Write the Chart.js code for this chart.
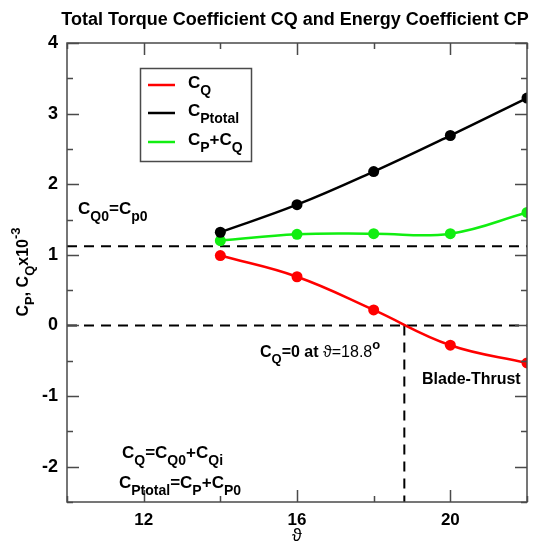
<!DOCTYPE html>
<html>
<head>
<meta charset="utf-8">
<script src="https://cdn.jsdelivr.net/npm/chart.js@4/dist/chart.umd.min.js"></script>
<style>
  html, body { margin: 0; padding: 0; background: #fff; }
  #wrap { width: 537px; height: 543px; }
</style>
</head>
<body>
<div id="wrap"><canvas id="chart" width="537" height="543"></canvas></div>
<script>
// blade angle (deg) and coefficients x10^-3
const angles = [14, 16, 18, 20, 22];
const cq = [0.99, 0.69, 0.22, -0.28, -0.53];
const cpTotal = [1.32, 1.71, 2.18, 2.69, 3.22];
const cpPlusCq = [1.20, 1.29, 1.30, 1.30, 1.60];
const cq0Level = 1.12;      // C_Q0 = C_p0 reference line
const cqZeroAngle = 18.8;   // where C_Q crosses zero
const xTicks = [12, 16, 20];
const yTicks = [-2, -1, 0, 1, 2, 3, 4];
const xRange = [10, 22];
const yRange = [-2.5, 4];

const FONT = '"Liberation Sans", Arial, sans-serif';
const pts = ys => angles.map((a, i) => ({ x: a, y: ys[i] }));

// draw text made of [str, kind] parts, kind = 'n' | 'sub' | 'sup' | 'r' (regular weight)
function fontFor(k, size) {
  if (k === 'sub' || k === 'sup') return `bold ${Math.round(size * 0.8)}px ${FONT}`;
  if (k === 'r') return `${size}px ${FONT}`;
  return `bold ${size}px ${FONT}`;
}
function richWidth(ctx, parts, size) {
  let w = 0;
  for (const [s, k] of parts) {
    ctx.font = fontFor(k, size);
    w += ctx.measureText(s).width;
  }
  return w;
}
function drawRich(ctx, parts, x, y, size) {
  let cx = x;
  for (const [s, k] of parts) {
    ctx.font = fontFor(k, size);
    let dy = 0;
    if (k === 'sub') dy = size * 0.4;
    if (k === 'sup') dy = -size * 0.5;
    ctx.fillText(s, cx, y + dy);
    cx += ctx.measureText(s).width;
  }
}

const framePlugin = {
  id: 'frame',
  afterDraw(chart) {
    const { ctx, chartArea: a, scales: { x, y } } = chart;
    ctx.save();
    // box
    ctx.strokeStyle = '#4a4a4a';
    ctx.lineWidth = 1.5;
    ctx.strokeRect(a.left, a.top, a.right - a.left, a.bottom - a.top);
    // inward ticks on all four sides
    ctx.beginPath();
    for (let v = yRange[0]; v <= yRange[1] + 1e-9; v += 0.5) {
      const py = Math.round(y.getPixelForValue(v)) + 0.5;
      const len = Number.isInteger(v) ? 12 : 6;
      ctx.moveTo(a.left, py); ctx.lineTo(a.left + len, py);
      ctx.moveTo(a.right, py); ctx.lineTo(a.right - len, py);
    }
    for (let v = xRange[0]; v <= xRange[1] + 1e-9; v += 2) {
      const px = Math.round(x.getPixelForValue(v)) + 0.5;
      const len = (v % 4 === 0) ? 12 : 6;
      ctx.moveTo(px, a.bottom); ctx.lineTo(px, a.bottom - len);
      ctx.moveTo(px, a.top); ctx.lineTo(px, a.top + len);
    }
    ctx.stroke();

    ctx.fillStyle = '#000';
    ctx.textBaseline = 'alphabetic';
    ctx.textAlign = 'left';

    // title
    ctx.font = `bold 18px ${FONT}`;
    ctx.textAlign = 'center';
    ctx.fillText('Total Torque Coefficient CQ and Energy Coefficient CP', 295, 25);
    ctx.textAlign = 'left';

    // y axis title, rotated
    const yParts = [['C', 'n'], ['P', 'sub'], [', C', 'n'], ['Q', 'sub'], ['x10', 'n'], ['-3', 'sup']];
    const yw = richWidth(ctx, yParts, 16);
    ctx.save();
    ctx.translate(28, 272);
    ctx.rotate(-Math.PI / 2);
    drawRich(ctx, yParts, -yw / 2, 0, 16);
    ctx.restore();

    // x axis title
    ctx.font = `18px ${FONT}`;
    ctx.textAlign = 'center';
    ctx.fillText('\u03D1', x.getPixelForValue(16), 541);
    ctx.textAlign = 'left';

    // legend box
    ctx.strokeStyle = '#4a4a4a';
    ctx.lineWidth = 1.5;
    ctx.strokeRect(140.5, 68.5, 111, 93);
    const leg = [
      ['#ff0000', [['C', 'n'], ['Q', 'sub']], 88],
      ['#000000', [['C', 'n'], ['Ptotal', 'sub']], 116],
      ['#11ee11', [['C', 'n'], ['P', 'sub'], ['+C', 'n'], ['Q', 'sub']], 145]
    ];
    for (const [col, parts, by] of leg) {
      ctx.strokeStyle = col;
      ctx.lineWidth = 2.5;
      ctx.beginPath();
      ctx.moveTo(148, by - 3); ctx.lineTo(175, by - 3);
      ctx.stroke();
      drawRich(ctx, parts, 188, by, 17);
    }

    // annotations
    drawRich(ctx, [['C', 'n'], ['Q0', 'sub'], ['=C', 'n'], ['p0', 'sub']], 78, 214, 17);
    drawRich(ctx, [['C', 'n'], ['Q', 'sub'], ['=0 at ', 'n'], ['\u03D1=18.8', 'r'], ['o', 'sup']], 260, 357, 16);
    drawRich(ctx, [['Blade-Thrust', 'n']], 422, 384, 16);
    drawRich(ctx, [['C', 'n'], ['Q', 'sub'], ['=C', 'n'], ['Q0', 'sub'], ['+C', 'n'], ['Qi', 'sub']], 122, 458, 17);
    drawRich(ctx, [['C', 'n'], ['Ptotal', 'sub'], ['=C', 'n'], ['P', 'sub'], ['+C', 'n'], ['P0', 'sub']], 119, 488, 17);
    ctx.restore();
  }
};

const dashed = { borderColor: '#000', borderWidth: 2, borderDash: [10, 7], pointRadius: 0, tension: 0, order: 5 };

new Chart(document.getElementById('chart'), {
  type: 'line',
  data: {
    datasets: [
      { label: 'CQ', data: pts(cq), borderColor: '#ff0000', backgroundColor: '#ff0000', order: 1 },
      { label: 'CPtotal', data: pts(cpTotal), borderColor: '#000000', backgroundColor: '#000000', order: 2 },
      { label: 'CP+CQ', data: pts(cpPlusCq), borderColor: '#11ee11', backgroundColor: '#11ee11', order: 3 },
      { ...dashed, data: [{ x: xRange[0], y: cq0Level }, { x: xRange[1], y: cq0Level }] },
      { ...dashed, data: [{ x: xRange[0], y: 0 }, { x: xRange[1], y: 0 }] },
      { ...dashed, data: [{ x: cqZeroAngle, y: 0 }, { x: cqZeroAngle, y: yRange[0] }] }
    ]
  },
  options: {
    responsive: false,
    animation: false,
    devicePixelRatio: 1,
    layout: { padding: { top: 43, right: 10, left: 0, bottom: 0 } },
    elements: {
      line: { borderWidth: 2.5, tension: 0.4, fill: false },
      point: { radius: 5.5, borderWidth: 0 }
    },
    plugins: { legend: { display: false }, tooltip: { enabled: false }, title: { display: false } },
    scales: {
      x: {
        type: 'linear', min: xRange[0], max: xRange[1],
        afterBuildTicks: s => { s.ticks = xTicks.map(v => ({ value: v })); },
        afterFit: s => { s.height = 41; },
        grid: { display: false, drawTicks: false },
        border: { display: false },
        ticks: { color: '#000', padding: 8, maxRotation: 0, font: { family: FONT, size: 17, weight: 'bold' } }
      },
      y: {
        type: 'linear', min: yRange[0], max: yRange[1],
        afterBuildTicks: s => { s.ticks = yTicks.map(v => ({ value: v })); },
        afterFit: s => { s.width = 67; },
        grid: { display: false, drawTicks: false },
        border: { display: false },
        ticks: { color: '#000', padding: 9, font: { family: FONT, size: 18, weight: 'bold' } }
      }
    }
  },
  plugins: [framePlugin]
});
</script>
</body>
</html>
